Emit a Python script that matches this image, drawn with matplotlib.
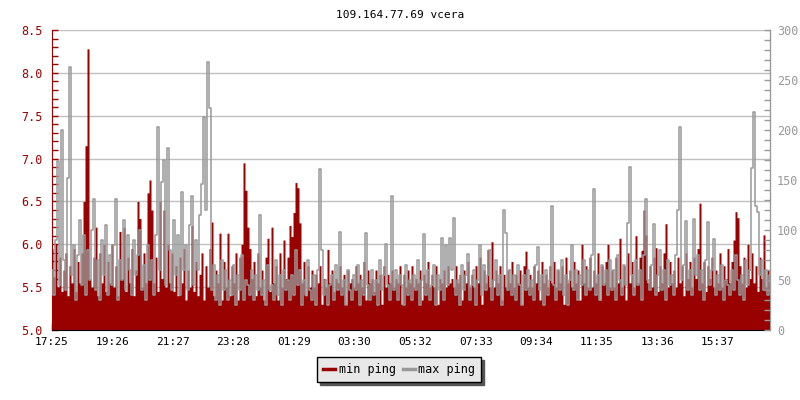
import numpy as np
import matplotlib
matplotlib.use("Agg")
import matplotlib.pyplot as plt
from matplotlib.ticker import MultipleLocator

TITLE = "109.164.77.69 vcera"
START = "17:25"
STEP_MIN = 4  # one sample every 4 minutes

tick_labels = ["17:25", "19:26", "21:27", "23:28", "01:29", "03:30",
               "05:32", "07:33", "09:34", "11:35", "13:36", "15:37"]

# min ping (left axis)
min_ping = [
    5.95, 5.62, 6.0, 5.5, 5.85, 5.45, 5.7, 5.9, 5.4, 5.75,
    5.55, 5.95, 5.45, 5.8, 5.55, 5.9, 6.5, 7.15, 8.28, 5.6,
    5.5, 5.85, 6.2, 5.4, 5.9, 5.55, 6.0, 5.45, 5.8, 5.55,
    6.0, 5.5, 5.75, 5.4, 6.15, 5.6, 6.2, 5.45, 5.85, 5.55,
    5.95, 5.4, 5.7, 6.5, 6.3, 5.5, 5.9, 5.55, 6.6, 6.75,
    6.4, 5.55, 5.85, 5.45, 6.5, 5.6, 6.4, 5.5, 6.0, 5.55,
    5.9, 5.45, 5.75, 5.4, 5.85, 5.55, 5.95, 5.35, 5.7, 5.5,
    6.22, 5.45, 5.8, 5.4, 5.65, 5.9, 5.35, 5.75, 5.5, 5.95,
    6.26, 5.4, 5.7, 5.55, 6.13, 5.35, 5.8, 5.5, 6.13, 5.4,
    5.75, 5.55, 5.9, 5.35, 5.85, 6.0, 6.95, 6.63, 6.2, 5.95,
    5.6, 5.8, 5.4, 5.9, 5.5, 5.7, 5.35, 5.85, 6.07, 5.45,
    6.2, 5.55, 5.75, 5.35, 5.9, 5.5, 6.05, 5.6, 5.85, 6.22,
    6.09, 6.37, 6.72, 6.66, 6.25, 5.55, 5.8, 5.4, 5.75, 5.5,
    5.7, 5.5, 5.65, 5.55, 5.75, 5.3, 5.6, 5.5, 5.94, 5.55,
    5.7, 5.45, 5.6, 5.55, 5.75, 5.5, 5.65, 5.3, 5.7, 5.55,
    5.6, 5.5, 5.75, 5.55, 5.65, 5.5, 5.8, 5.35, 5.7, 5.55,
    5.6, 5.45, 5.7, 5.55, 5.65, 5.3, 5.75, 5.5, 5.65, 5.55,
    5.7, 5.5, 5.6, 5.55, 5.75, 5.3, 5.65, 5.5, 5.7, 5.55,
    5.75, 5.5, 5.6, 5.55, 5.7, 5.35, 5.65, 5.55, 5.8, 5.5,
    5.65, 5.5, 5.75, 5.3, 5.6, 5.55, 5.7, 5.5, 5.75, 5.55,
    5.6, 5.5, 5.75, 5.55, 5.65, 5.35, 5.7, 5.55, 5.8, 5.5,
    5.65, 5.5, 5.75, 5.55, 5.85, 5.3, 5.7, 5.55, 5.94, 5.5,
    6.03, 5.5, 5.7, 5.55, 5.75, 5.35, 5.65, 5.5, 5.7, 5.55,
    5.8, 5.5, 5.65, 5.55, 5.7, 5.3, 5.75, 5.92, 5.5, 5.65,
    5.5, 5.75, 5.55, 5.7, 5.35, 5.8, 5.55, 5.65, 5.5, 5.75,
    5.55, 5.8, 5.5, 5.7, 5.55, 5.75, 5.3, 5.85, 5.55, 5.7,
    5.5, 5.8, 5.55, 5.7, 5.35, 6.0, 5.55, 5.75, 5.5, 5.85,
    5.5, 5.7, 5.55, 5.9, 5.35, 5.75, 5.55, 5.8, 6.0, 5.5,
    5.7, 5.5, 5.85, 5.55, 6.07, 5.5, 5.75, 5.35, 5.9, 5.55,
    5.8, 5.5, 6.1, 5.55, 5.85, 5.93, 6.4, 6.11, 5.55, 5.75,
    5.5, 5.85, 5.96, 5.45, 5.75, 5.55, 5.9, 6.24, 5.5, 5.8,
    5.55, 5.7, 5.5, 5.85, 5.55, 5.75, 5.4, 5.9, 5.6, 5.8,
    5.5, 5.85, 5.6, 5.95, 6.48, 5.55, 5.8, 5.45, 5.75, 5.6,
    5.85, 5.5, 5.7, 5.55, 5.9, 5.5, 5.75, 5.6, 5.95, 5.55,
    5.8, 6.05, 6.38, 6.31, 5.75, 5.55, 5.85, 5.5, 6.0, 5.6,
    5.9, 5.55, 5.75, 5.45, 5.85, 5.6, 6.11, 5.5, 5.7, 5.55,
]

# max ping (right axis)
max_ping = [
    60, 35, 90, 169, 45, 200, 70, 40, 152, 263,
    55, 85, 30, 75, 110, 45, 95, 35, 80, 50,
    100, 131, 40, 70, 30, 90, 55, 105, 35, 75,
    45, 85, 131, 30, 70, 50, 110, 40, 95, 60,
    35, 90, 55, 75, 100, 40, 65, 30, 85, 50,
    70, 35, 95, 203, 60, 148, 170, 45, 182, 80,
    40, 110, 55, 95, 35, 138, 60, 85, 40, 105,
    134, 45, 90, 60, 115, 146, 213, 120, 268, 222,
    40, 65, 30, 55, 25, 70, 40, 60, 30, 50,
    35, 65, 25, 55, 40, 75, 30, 50, 45, 35,
    60, 30, 55, 40, 115, 35, 50, 25, 65, 40,
    45, 30, 70, 35, 55, 25, 60, 40, 50, 30,
    55, 35, 80, 45, 60, 25, 50, 35, 70, 40,
    30, 55, 25, 60, 161, 80, 35, 50, 25, 45,
    55, 30, 65, 40, 98, 35, 50, 25, 60, 40,
    30, 55, 40, 65, 25, 50, 35, 97, 45, 30,
    60, 35, 50, 25, 70, 40, 55, 86, 45, 30,
    134, 40, 60, 30, 55, 45, 25, 65, 35, 50,
    30, 55, 40, 70, 25, 50, 96, 35, 60, 30,
    45, 65, 25, 55, 40, 92, 30, 85, 45, 92,
    60, 112, 35, 50, 25, 65, 40, 55, 76, 30,
    45, 60, 25, 50, 85, 35, 65, 40, 55, 80,
    30, 50, 70, 35, 55, 25, 120, 97, 40, 60,
    35, 55, 30, 65, 45, 25, 55, 40, 60, 35,
    50, 30, 65, 83, 40, 55, 25, 60, 35, 50,
    124, 45, 30, 60, 40, 70, 35, 55, 25, 50,
    85, 40, 60, 30, 55, 45, 70, 35, 60, 40,
    75, 141, 35, 55, 30, 65, 45, 60, 35, 70,
    40, 60, 30, 75, 50, 35, 65, 45, 107, 163,
    55, 35, 70, 45, 60, 30, 75, 131, 50, 40,
    65, 106, 35, 55, 80, 40, 60, 30, 70, 45,
    55, 35, 75, 120, 203, 50, 65, 109, 40, 60,
    35, 111, 55, 75, 40, 60, 30, 70, 108, 45,
    60, 91, 35, 55, 40, 65, 30, 50, 45, 35,
    60, 40, 75, 50, 35, 55, 30, 70, 45, 60,
    162, 218, 124, 118, 55, 70, 40, 60, 35, 55,
]

RED = "#990000"
GREY = "#999999"
FONT = "DejaVu Sans Mono"


def _minutes(hhmm, start=START):
    h, m = map(int, hhmm.split(":"))
    h0, m0 = map(int, start.split(":"))
    return (h * 60 + m - h0 * 60 - m0) % 1440


plt.rcParams["font.family"] = FONT
plt.rcParams["font.size"] = 8

t = np.arange(len(min_ping)) * STEP_MIN

fig = plt.figure(figsize=(8, 4), dpi=100)
ax = fig.add_axes([0.065, 0.175, 0.8975, 0.75])
ax2 = ax.twinx()

ax.fill_between(t, 5.0, min_ping, step="mid", color=RED, lw=0, zorder=2)
ax2.plot(t, max_ping, color=GREY, lw=1.1, drawstyle="steps-mid", zorder=3)

ax.set_xlim(0, t[-1])
ax.set_ylim(5.0, 8.5)
ax2.set_ylim(0, 300)

ax.yaxis.set_major_locator(MultipleLocator(0.5))
ax.yaxis.set_minor_locator(MultipleLocator(0.1))
ax.yaxis.set_major_formatter(plt.FormatStrFormatter("%.1f"))
ax2.yaxis.set_major_locator(MultipleLocator(50))
ax2.yaxis.set_minor_locator(MultipleLocator(10))

ax.set_xticks([_minutes(s) for s in tick_labels])
ax.set_xticklabels(tick_labels)

ax.grid(axis="y", which="major", color="#c0c0c0", lw=1, zorder=0)
ax.set_axisbelow(True)

ax.tick_params(axis="y", which="both", direction="in", colors=RED, labelcolor=RED,
               length=4, width=1, labelsize=8.5, pad=7)
ax.tick_params(axis="x", direction="in", length=5, width=1, colors="black", labelsize=8, pad=5)
ax2.tick_params(axis="y", which="both", direction="in", colors=GREY, labelcolor=GREY,
                length=4, width=1, labelsize=8.5, pad=5)

for a in (ax, ax2):
    a.spines["top"].set_visible(False)
ax.spines["left"].set_color(RED)
ax.spines["bottom"].set_color("black")
ax2.spines["left"].set_visible(False)
ax2.spines["bottom"].set_visible(False)
ax2.spines["right"].set_color(GREY)

fig.suptitle(TITLE, y=0.975, fontsize=8, fontfamily=FONT)

h1 = plt.Line2D([], [], color=RED, lw=2.5)
h2 = plt.Line2D([], [], color=GREY, lw=2.5)
fig.legend([h1, h2], ["min ping", "max ping"], loc="center", bbox_to_anchor=(0.499, 0.076),
           ncol=2, fancybox=False, shadow={"color": "#555555", "alpha": 1},
           edgecolor="black", facecolor="#e8e8e8", framealpha=1,
           handlelength=1.0, handletextpad=0.3, columnspacing=0.6,
           borderpad=0.5, fontsize=8.5)

fig.savefig("out.png", dpi=100)
